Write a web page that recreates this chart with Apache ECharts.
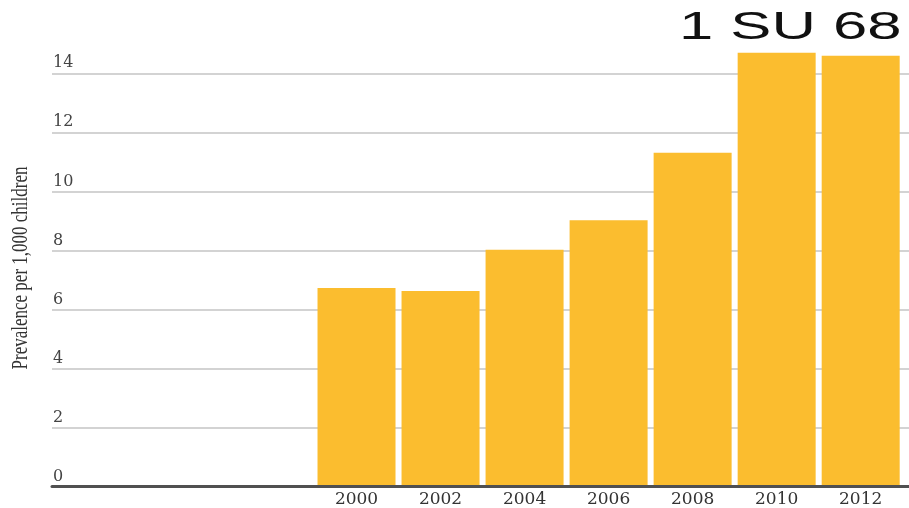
<!DOCTYPE html>
<html>
<head>
<meta charset="utf-8">
<script src="https://cdn.jsdelivr.net/npm/echarts@6/dist/echarts.min.js"></script>
<style>
  html, body { margin: 0; padding: 0; background: #ffffff; }
  #chart { width: 909px; height: 508px; }
</style>
</head>
<body>
<div id="chart"></div>
<script>
// ---- data ----
var years = ['2000', '2002', '2004', '2006', '2008', '2010', '2012'];
var prevalence = [6.7, 6.6, 8.0, 9.0, 11.3, 14.7, 14.6];
var yTicks = [0, 2, 4, 6, 8, 10, 12, 14];
var yTitle = 'Prevalence per 1,000 children';
var headline = '1 SU 68';

var chart = echarts.init(document.getElementById('chart'), null, { renderer: 'canvas' });

var yMin = yTicks[0];
var yMax = yTicks[yTicks.length - 1];
var yStep = yTicks[1] - yTicks[0];

var option = {
  backgroundColor: '#ffffff',
  animation: false,
  grid: [
    { left: 52, right: 0, top: 73.3, bottom: 21.5 },
    { left: 314.5, right: 6.3, top: 73.3, bottom: 21.5 }
  ],
  xAxis: [
    {
      gridIndex: 0, type: 'value', min: 0, max: 1, z: 5,
      axisLine: { show: true, lineStyle: { color: '#505050', width: 3 } },
      axisTick: { show: false }, axisLabel: { show: false }, splitLine: { show: false }
    },
    {
      gridIndex: 1, type: 'category', data: years,
      axisLine: { show: false }, axisTick: { show: false },
      axisLabel: {
        margin: 6, color: '#333333', fontFamily: 'DejaVu Serif', fontSize: 17
      }
    }
  ],
  yAxis: [
    {
      gridIndex: 0, type: 'value', min: yMin, max: yMax, interval: yStep,
      axisLine: { show: false }, axisTick: { show: false },
      axisLabel: {
        inside: true, margin: 1, align: 'left', verticalAlign: 'bottom',
        padding: [0, 0, 2, 0],
        color: '#444444', fontFamily: 'DejaVu Serif', fontSize: 16
      },
      splitLine: { show: true, lineStyle: { color: '#c4c4c4', width: 1.5 } }
    },
    {
      gridIndex: 1, type: 'value', min: yMin, max: yMax, interval: yStep, show: false,
      splitLine: { show: false }
    }
  ],
  series: [
    {
      type: 'bar', xAxisIndex: 1, yAxisIndex: 1,
      data: prevalence, barWidth: 78, clip: false,
      itemStyle: { color: '#FBBD2F' }
    }
  ],
  graphic: [
    {
      type: 'text', x: 21, y: 268, rotation: Math.PI / 2, scaleY: 1.3,
      style: {
        text: yTitle, x: 0, y: 0, align: 'center', verticalAlign: 'middle',
        font: '17px "Liberation Serif"', fill: '#333333'
      }
    },
    {
      type: 'text', x: 679, y: 29, scaleX: 1.62,
      style: {
        text: headline, x: 0, y: 0, align: 'left', verticalAlign: 'middle',
        font: '38px "Liberation Sans"', fill: '#111111'
      }
    }
  ]
};

chart.setOption(option);
</script>
</body>
</html>
